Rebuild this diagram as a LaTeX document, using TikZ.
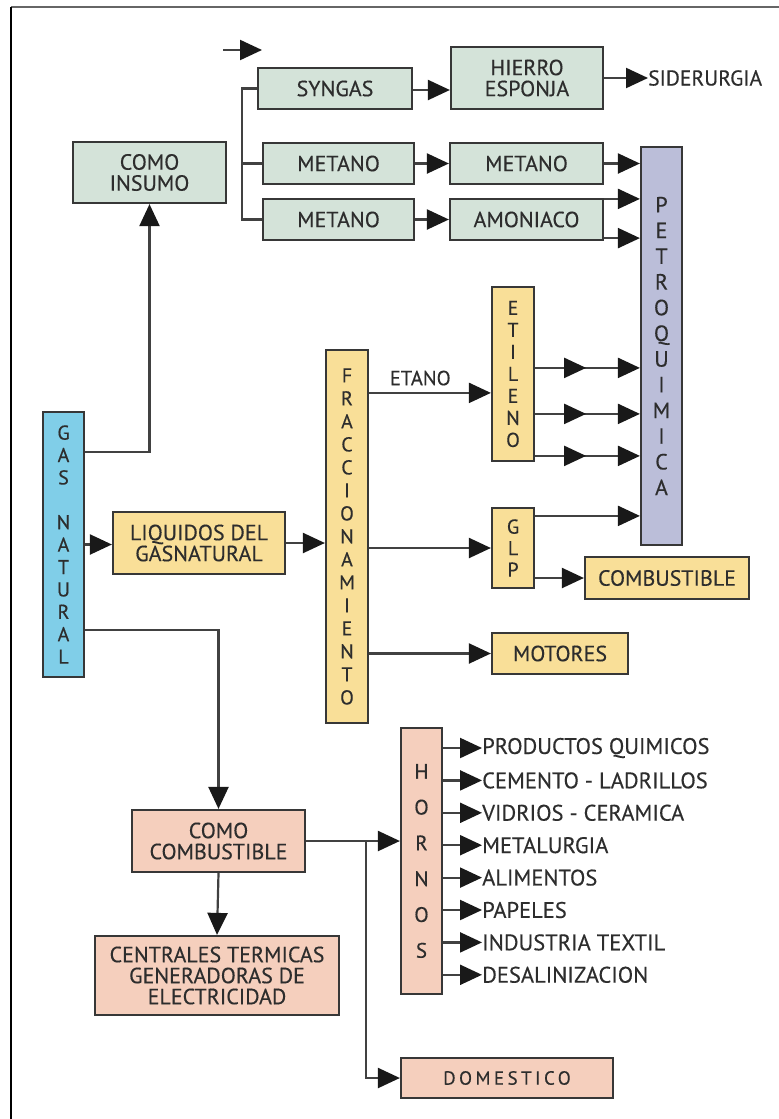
\documentclass[tikz,border=0pt]{standalone}
\usepackage{fontspec}
\setmainfont{PT Sans}[FakeBold=0.35]
\usepackage{tikz}
\usetikzlibrary{arrows.meta, decorations.markings, positioning}

\definecolor{verde}{RGB}{212,227,217}
\definecolor{amarillo}{RGB}{249,223,152}
\definecolor{celeste}{RGB}{128,206,232}
\definecolor{lila}{RGB}{187,190,217}
\definecolor{rosa}{RGB}{245,207,189}
\definecolor{borde}{RGB}{55,55,55}
\definecolor{linea}{RGB}{65,65,65}
\definecolor{punta}{RGB}{25,25,25}
\definecolor{texto}{RGB}{45,45,45}

\tikzset{
  caja/.style={draw=borde, line width=2.2pt, inner sep=0pt, align=center, text=texto,
    font=\fontsize{22}{21}\selectfont},
  vcaja/.style={caja, font=\fontsize{20}{22.4}\selectfont},
  conector/.style={draw=linea, line width=2.2pt},
  flecha/.style={conector, -{Triangle[length=22pt,width=20pt,color=punta]}},
  dobleflecha/.style={flecha, postaction={decorate, decoration={markings,
    mark=at position 51pt with {\arrow{Triangle[length=22pt,width=20pt,color=punta]}}}}},
  rotulo/.style={inner sep=0pt, text=texto, anchor=west, font=\fontsize{21.5}{21.5}\selectfont},
}

\begin{document}
\begin{tikzpicture}[x=1pt, y=-1pt]

    \useasboundingbox (0,0) rectangle (779,1119);

    % Marco
    \draw[line width=2.5pt, draw=gray!80!black] (11,7) -- (779,7); % borde superior
    \draw[line width=1.8pt] (11,7) -- (11,1119); % borde izquierdo

    % Gas natural y sus derivados
    \node[vcaja, fill=celeste, minimum width=41pt, minimum height=265pt] (gas) at (63.5,544.5)
        {G\\A\\S\\\mbox{}\\N\\A\\T\\U\\R\\A\\L};
    \node[caja, fill=verde, minimum width=153pt, minimum height=61pt] (insumo) at (149.5,172.5) {COMO\\INSUMO};
    \node[caja, fill=amarillo, minimum width=172pt, minimum height=62pt] (liquidos) at (199,543) {LIQUIDOS DEL\\GASNATURAL};
    \node[caja, fill=rosa, minimum width=173pt, minimum height=62pt] (combustible) at (218.5,841) {COMO\\COMBUSTIBLE};

    % Rama superior: como insumo
    \node[caja, fill=verde, minimum width=154pt, minimum height=41pt] (syngas) at (335,88.5) {SYNGAS};
    \node[caja, fill=verde, minimum width=152pt, minimum height=62pt] (hierro) at (527,78) {HIERRO\\ESPONJA};
    \node[caja, fill=verde, minimum width=151pt, minimum height=41pt] (metanoA) at (338.5,163.5) {METANO};
    \node[caja, fill=verde, minimum width=151pt, minimum height=41pt] (metanoB) at (338.5,219.5) {METANO};
    \node[caja, fill=verde, minimum width=153pt, minimum height=41pt] (metanoC) at (526.5,163.5) {METANO};
    \node[caja, fill=verde, minimum width=153pt, minimum height=41pt] (amoniaco) at (526.5,219.5) {AMONIACO};
    \node[rotulo] (siderurgia) at (648,78) {SIDERURGIA};
    \node[vcaja, fill=lila, minimum width=41pt, minimum height=398pt, font=\fontsize{22}{25.7}\selectfont]
        (petro) at (661.5,346) {P\\E\\T\\R\\O\\Q\\U\\I\\M\\I\\C\\A};

    % Rama media: liquidos
    \node[vcaja, fill=amarillo, minimum width=42pt, minimum height=373pt, font=\fontsize{20}{23}\selectfont]
        (fracc) at (347,536.5) {F\\R\\A\\C\\C\\I\\O\\N\\A\\M\\I\\E\\N\\T\\O};
    \node[vcaja, fill=amarillo, minimum width=42pt, minimum height=174pt, font=\fontsize{20}{22}\selectfont]
        (etileno) at (513,374) {E\\T\\I\\L\\E\\N\\O};
    \node[vcaja, fill=amarillo, minimum width=42pt, minimum height=80pt, font=\fontsize{20}{21.5}\selectfont]
        (glp) at (513,548) {G\\L\\P};
    \node[caja, fill=amarillo, minimum width=164pt, minimum height=42pt] (combust) at (667,578) {COMBUSTIBLE};
    \node[caja, fill=amarillo, minimum width=136pt, minimum height=41pt] (motores) at (560,653.5) {MOTORES};

    % Rama inferior: como combustible
    \node[caja, fill=rosa, minimum width=244pt, minimum height=79pt] (centrales) at (217,975.5)
        {CENTRALES TERMICAS\\GENERADORAS DE\\ELECTRICIDAD};
    \node[vcaja, fill=rosa, minimum width=41pt, minimum height=266pt, font=\fontsize{21}{35.8}\selectfont]
        (hornos) at (421.5,861) {H\\O\\R\\N\\O\\S};
    \node[caja, fill=rosa, minimum width=212pt, minimum height=40pt,
        font=\fontsize{19}{19}\selectfont\addfontfeature{LetterSpace=18}] (domestico) at (507,1078) {DOMESTICO};

    % Usos de los hornos
    \foreach \u [count=\i from 0] in {PRODUCTOS QUIMICOS, CEMENTO - LADRILLOS, VIDRIOS - CERAMICA,
        METALURGIA, ALIMENTOS, PAPELES, INDUSTRIA TEXTIL, DESALINIZACION}
    {
        \node[rotulo, font=\fontsize{22.5}{22.5}\selectfont] (uso\i) at (482,748+32.4*\i) {\u};
        \draw[flecha] (uso\i.west -| hornos.east) -- (uso\i.west);
    }

    % Flecha suelta arriba
    \coordinate (sueltoA) at (223,50);
    \coordinate (sueltoB) at (262,50);
    \draw[flecha] (sueltoA) -- (sueltoB);

    % Conectores de la rama superior
    \draw[flecha] ([yshift=-41pt]gas.north east) -| (insumo.south);
    \draw[conector] (syngas.west) -- ++(-15,0) |- (metanoB.west);
    \draw[conector] (metanoA.west) -- ++(-20,0);
    \draw[flecha] ([yshift=-1.5pt]syngas.east) -- ([yshift=-1.5pt]syngas.east -| hierro.west);
    \draw[flecha] (hierro.east |- siderurgia.west) -- (siderurgia.west);
    \draw[flecha] (metanoA.east) -- (metanoC.west);
    \draw[flecha] (metanoB.east) -- (amoniaco.west);
    \draw[flecha] (metanoC.east) -- (metanoC.east -| petro.west);
    \draw[flecha] ([yshift=-1pt]amoniaco.north east) coordinate (am1) -- (am1 -| petro.west);
    \draw[flecha] ([yshift=3pt]amoniaco.south east) coordinate (am2) -- (am2 -| petro.west);

    % Conectores de la rama media
    \draw[flecha] (gas.east) -- (gas.east -| liquidos.west);
    \draw[flecha] (liquidos.east) -- (liquidos.east -| fracc.west);
    \draw[flecha] ([yshift=-44pt]fracc.north east) coordinate (etano) -- (etano -| etileno.west)
        node[pos=0.42, above=3pt, text=texto, font=\fontsize{20.5}{20.5}\selectfont] {ETANO};
    \draw[flecha] (glp.west -| fracc.east) -- (glp.west);
    \draw[flecha] (motores.west -| fracc.east) -- (motores.west);
    \foreach \d in {82,128,170}
        \draw[dobleflecha] ([yshift=-\d pt]etileno.north east) coordinate (et) -- (et -| petro.west);
    \draw[flecha] ([yshift=-9pt]glp.north east) coordinate (g1) -- (g1 -| petro.west);
    \draw[flecha] (glp.east |- combust.west) -- (combust.west);

    % Conectores de la rama inferior
    \draw[flecha] ([yshift=48pt]gas.south east) -| (combustible.north);
    \draw[flecha] (combustible.south) -- (centrales.north);
    \draw[flecha] (combustible.east) -- (combustible.east -| hornos.west);
    \draw[flecha] ([xshift=60pt]combustible.east) |- (domestico.west);

\end{tikzpicture}
\end{document}
